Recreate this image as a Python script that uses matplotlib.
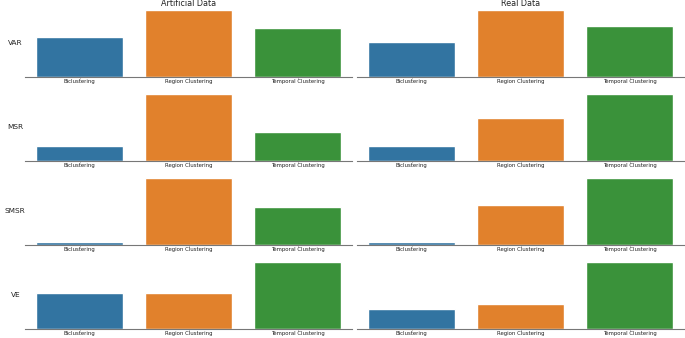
import numpy as np
import matplotlib
matplotlib.use("Agg")
import matplotlib.pyplot as plt
import seaborn as sns

methods = ["Biclustering", "Region Clustering", "Temporal Clustering"]
metrics = ["VAR", "MSR", "SMSR", "VE"]
datasets = ["Artificial Data", "Real Data"]

# normalised scores (max in each panel = 1)
artificial = {
    "VAR": [0.587, 1.0, 0.73],
    "MSR": [0.218, 1.0, 0.433],
    "SMSR": [0.05, 1.0, 0.565],
    "VE": [0.53, 0.54, 1.0],
}
real = {
    "VAR": [0.516, 1.0, 0.76],
    "MSR": [0.218, 0.63, 1.0],
    "SMSR": [0.05, 0.59, 1.0],
    "VE": [0.30, 0.37, 1.0],
}

sns.set_style("ticks")
palette = sns.color_palette()[:3]

fig = plt.figure(figsize=(6.85, 3.38), dpi=100)
W, H = 685.0, 338.0
col_x = [25, 357]
col_w = 327
row_base = [77, 161, 245, 329]
row_h = 67.5

for r, metric in enumerate(metrics):
    for c, data in enumerate([artificial, real]):
        ax = fig.add_axes([col_x[c] / W, (H - row_base[r]) / H, col_w / W, row_h / H])
        sns.barplot(x=methods, y=data[metric], hue=methods, palette=palette,
                    legend=False, ax=ax)
        sns.despine(ax=ax, left=True)
        ax.set_ylim(0, max(data[metric]))
        ax.set_yticks([])
        ax.spines["bottom"].set_color("#777777")
        ax.tick_params(axis="x", labelsize=3.9, length=1.2, width=0.4,
                       color="#999999", pad=0.6, labelcolor="#222222")
        if c == 0:
            ax.set_ylabel(metric, rotation=0, fontsize=5.3, labelpad=7,
                          va="center", color="#222222")
        else:
            ax.set_ylabel("")
        if r == 0:
            ax.set_title(datasets[c], fontsize=5.8, pad=2.5, color="#222222")

plt.savefig("out.png", dpi=100)
